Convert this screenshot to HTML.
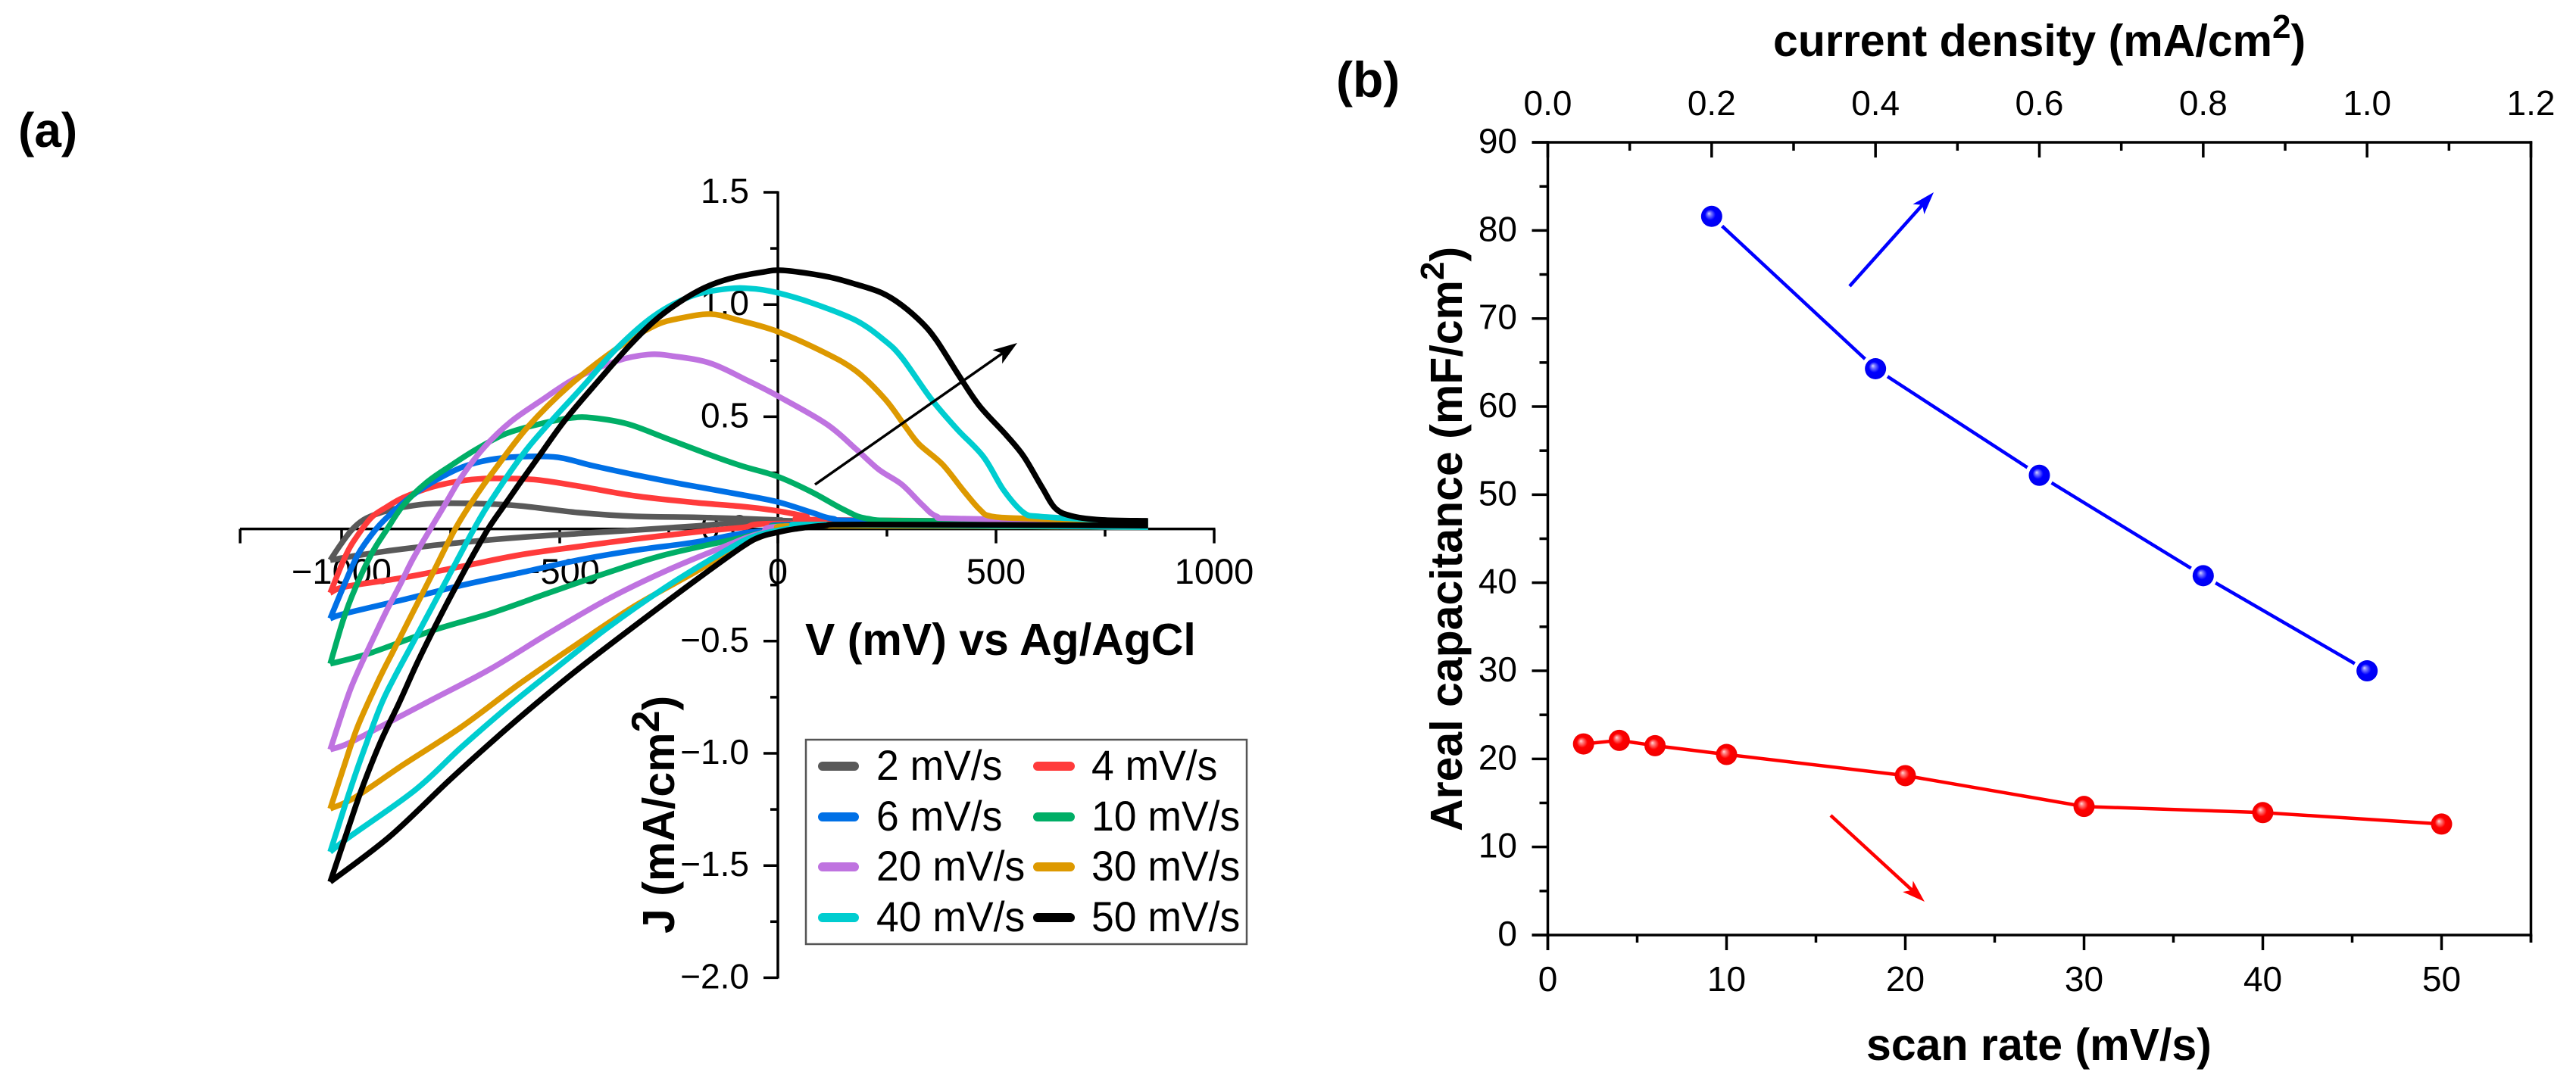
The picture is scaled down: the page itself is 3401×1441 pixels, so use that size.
<!DOCTYPE html>
<html lang="en">
<head>
<meta charset="utf-8">
<title>Cyclic voltammetry and areal capacitance</title>
<style>
html,body{margin:0;padding:0;background:#fff;}
svg{display:block;}
text{font-family:"Liberation Sans",sans-serif;fill:#000;}
.t{font-weight:bold;font-size:59px;}
</style>
</head>
<body>
<svg id="fig" xmlns="http://www.w3.org/2000/svg" width="3401" height="1441" viewBox="0 0 3401 1441">
<defs>
<radialGradient id="gb" cx="0.5" cy="0.5" r="0.5" fx="0.37" fy="0.36"><stop offset="0" stop-color="#d8d8ff"/><stop offset="0.18" stop-color="#7a7aff"/><stop offset="0.5" stop-color="#0000ff"/><stop offset="1" stop-color="#0000f0"/></radialGradient>
<radialGradient id="gr" cx="0.5" cy="0.5" r="0.5" fx="0.37" fy="0.36"><stop offset="0" stop-color="#ffdcdc"/><stop offset="0.18" stop-color="#ff8080"/><stop offset="0.5" stop-color="#ff0000"/><stop offset="1" stop-color="#f00000"/></radialGradient>
</defs>
<rect x="0" y="0" width="3401" height="1441" fill="#fff"/>

<text x="24" y="194" font-size="64" font-weight="bold">(a)</text>
<text x="1764" y="128" font-size="66" font-weight="bold">(b)</text>

<g id="a-axes"></g>
<g id="a-series"></g>
<g id="a-arrow"></g>

<text class="t" x="1063" y="865" font-size="58">V (mV) vs Ag/AgCl</text>
<text class="t" transform="translate(890,1233) rotate(-90)">J (mA/cm<tspan font-size="52" dy="-20">2</tspan><tspan dy="20">)</tspan></text>

<g id="a-legend">
<rect x="1064" y="977" width="582" height="270" fill="#fff" stroke="#555" stroke-width="2.5"/>
</g>

<g id="b-axes"></g>
<g id="b-series"></g>
<g id="b-arrows"></g>

<text class="t" x="2341" y="74">current density (mA/cm<tspan font-size="44" dy="-24">2</tspan><tspan dy="24">)</tspan></text>
<text class="t" x="2464" y="1400">scan rate (mV/s)</text>
<text class="t" transform="translate(1930,1098) rotate(-90)">Areal capacitance (mF/cm<tspan font-size="44" dy="-24">2</tspan><tspan dy="24">)</tspan></text>
</svg>

<script>
// ---- Panel (a) data: V in mV, J in mA/cm2 ----
const seriesNames = ['2 mV/s','4 mV/s','6 mV/s','10 mV/s','20 mV/s','30 mV/s','40 mV/s','50 mV/s'];

const v2 = [-1026,-1003,-977,-950,-910,-858,-792,-691,-592,-458,-327,-193,-82,0,100,842,842,50,-82,-193,-327,-458,-592,-724,-858,-957,-1026];
const j2 = [-0.139,-0.072,-0.005,0.04,0.073,0.097,0.113,0.113,0.103,0.073,0.056,0.052,0.046,0.04,0.035,0.03,0.008,0.03,0.029,0.012,-0.005,-0.021,-0.038,-0.06,-0.089,-0.116,-0.139];

const v4 = [-1026,-990,-963,-931,-897,-858,-792,-724,-658,-559,-458,-327,-193,-82,0,65,105,842,842,50,-82,-193,-327,-458,-592,-724,-858,-990,-1026];
const j4 = [-0.285,-0.116,-0.028,0.052,0.097,0.14,0.187,0.215,0.225,0.22,0.191,0.147,0.118,0.1,0.08,0.056,0.04,0.03,0.008,0.025,0.006,-0.015,-0.045,-0.079,-0.116,-0.167,-0.217,-0.257,-0.285];

const v6 = [-1026,-997,-963,-923,-890,-844,-792,-724,-658,-592,-505,-425,-327,-220,-88,0,78,125,212,842,842,60,0,-82,-193,-327,-458,-592,-724,-858,-990,-1026];
const j6 = [-0.399,-0.263,-0.116,-0.005,0.062,0.14,0.208,0.275,0.309,0.322,0.319,0.282,0.241,0.2,0.154,0.12,0.073,0.046,0.036,0.03,0.008,0.02,0,-0.02,-0.06,-0.095,-0.139,-0.196,-0.251,-0.315,-0.376,-0.399];

const v10 = [-1026,-997,-970,-931,-897,-858,-804,-745,-691,-625,-545,-472,-425,-345,-260,-160,-82,0,78,151,205,311,842,842,60,0,-82,-260,-392,-525,-658,-792,-937,-1026];
const j10 = [-0.601,-0.41,-0.27,-0.11,-0.005,0.107,0.209,0.288,0.355,0.423,0.468,0.495,0.495,0.468,0.407,0.333,0.28,0.233,0.164,0.086,0.046,0.036,0.03,0.008,0.015,0,-0.038,-0.116,-0.196,-0.285,-0.376,-0.453,-0.555,-0.601];

const v20 = [-1026,-990,-967,-923,-897,-865,-838,-798,-764,-724,-672,-612,-545,-465,-370,-298,-240,-154,-68,0,111,179,231,284,331,364,417,842,842,70,-40,-127,-260,-392,-525,-658,-792,-890,-984,-1026];
const j20 = [-0.983,-0.77,-0.655,-0.47,-0.365,-0.245,-0.139,-0.005,0.105,0.235,0.366,0.478,0.569,0.67,0.748,0.777,0.77,0.738,0.66,0.592,0.468,0.356,0.265,0.198,0.107,0.056,0.046,0.03,0.008,0.015,-0.02,-0.082,-0.19,-0.315,-0.465,-0.623,-0.76,-0.86,-0.955,-0.983];

const v30 = [-1026,-997,-963,-914,-877,-838,-791,-741,-698,-645,-572,-479,-370,-284,-226,-154,-88,0,111,179,245,292,324,377,424,463,490,576,842,842,80,0,-80,-193,-327,-458,-592,-725,-858,-970,-1026];
const j30 = [-1.247,-1.073,-0.88,-0.669,-0.527,-0.377,-0.197,-0.005,0.13,0.275,0.457,0.637,0.803,0.904,0.938,0.957,0.929,0.879,0.782,0.704,0.58,0.457,0.377,0.288,0.174,0.086,0.056,0.046,0.03,0.008,0.015,-0.01,-0.07,-0.196,-0.342,-0.51,-0.69,-0.882,-1.05,-1.197,-1.247];

const v40 = [-1026,-990,-957,-911,-881,-838,-778,-738,-698,-658,-571,-446,-370,-284,-197,-111,-50,0,78,179,245,285,351,411,471,517,563,597,677,842,842,100,50,-50,-127,-260,-392,-525,-618,-725,-831,-981,-1026];
const j40 = [-1.439,-1.219,-1.03,-0.79,-0.669,-0.513,-0.295,-0.15,-0.005,0.125,0.366,0.637,0.803,0.949,1.038,1.071,1.069,1.052,1.007,0.929,0.839,0.761,0.58,0.444,0.322,0.174,0.073,0.056,0.046,0.03,0.008,0.02,0.01,-0.03,-0.105,-0.263,-0.443,-0.646,-0.792,-0.972,-1.163,-1.371,-1.439];

const v50 = [-1026,-984,-954,-911,-868,-831,-791,-758,-725,-691,-661,-626,-593,-546,-487,-410,-341,-284,-226,-168,-111,-39,12,111,179,238,284,331,364,417,463,524,564,605,637,677,743,842,842,200,105,40,0,-40,-82,-193,-327,-458,-552,-645,-752,-890,-1026];
const j50 = [-1.573,-1.33,-1.16,-0.95,-0.775,-0.615,-0.455,-0.33,-0.21,-0.09,0.01,0.108,0.2,0.328,0.487,0.663,0.815,0.925,1.01,1.075,1.115,1.143,1.152,1.125,1.09,1.052,0.997,0.917,0.839,0.677,0.546,0.417,0.322,0.187,0.09,0.056,0.04,0.036,0.015,0.02,0.015,0,-0.015,-0.035,-0.08,-0.235,-0.43,-0.625,-0.775,-0.93,-1.118,-1.371,-1.573];

const voltageSeries = [v2,v4,v6,v10,v20,v30,v40,v50];
const currentSeries = [j2,j4,j6,j10,j20,j30,j40,j50];

const aXMajorTicks = [-1000,-500,0,500,1000];
const aXMajorLabels = ['\u22121000','\u2212500','0','500','1000'];
const aXMinorTicks = [-750,-250,250,750];
const aYMajorTicks = [1.5,1.0,0.5,0,-0.5,-1.0,-1.5,-2.0];
const aYMajorLabels = ['1.5','1.0','0.5','0.0','\u22120.5','\u22121.0','\u22121.5','\u22122.0'];
const aYMinorTicks = [1.25,0.75,0.25,-0.25,-0.75,-1.25,-1.75];

// ---- Panel (b) data ----
const scanRates = [2,4,6,10,20,30,40,50];
const capacitanceVsScan = [21.7,22.1,21.5,20.5,18.1,14.6,13.9,12.6];
const currentDensity = [0.2,0.4,0.6,0.8,1.0];
const capacitanceVsCurrent = [81.6,64.3,52.2,40.8,30.0];

const bXMajorTicks = [0,10,20,30,40,50];
const bXMajorLabels = ['0','10','20','30','40','50'];
const bXMinorTicks = [5,15,25,35,45,55];
const bTopMajorTicks = [0,0.2,0.4,0.6,0.8,1.0,1.2];
const bTopMajorLabels = ['0.0','0.2','0.4','0.6','0.8','1.0','1.2'];
const bTopMinorTicks = [0.1,0.3,0.5,0.7,0.9,1.1];
const bYMajorTicks = [0,10,20,30,40,50,60,70,80,90];
const bYMajorLabels = ['0','10','20','30','40','50','60','70','80','90'];
const bYMinorTicks = [5,15,25,35,45,55,65,75,85];

// ---- Styles and scales ----
const seriesColors = ['#595959','#ff3b3b','#0070e6','#00ae66','#bf73e0','#dd9900','#00cdd0','#000000'];

function xA(v){ return 1027 + 0.576 * v; }
function yA(j){ return 698.6 - 296.4 * j; }
function xB(s){ return 2043.5 + 23.6 * s; }
function xBTop(c){ return 2043.5 + 1298 / 1.2 * c; }
function yB(c){ return 1235 - 11.633 * c; }

const NS = 'http://www.w3.org/2000/svg';
function mk(parent, tag){ const el = document.createElementNS(NS, tag); parent.appendChild(el); return el; }
function line(parent, x1, y1, x2, y2, color, w){
  const el = mk(parent, 'line');
  el.setAttribute('x1', x1); el.setAttribute('y1', y1);
  el.setAttribute('x2', x2); el.setAttribute('y2', y2);
  el.setAttribute('stroke', color); el.setAttribute('stroke-width', w);
  return el;
}
function label(parent, x, y, str, size, anchor){
  const el = mk(parent, 'text');
  el.setAttribute('x', x); el.setAttribute('y', y);
  el.setAttribute('font-size', size); el.setAttribute('text-anchor', anchor);
  el.textContent = str;
  return el;
}
function smoothPath(pts){
  // Catmull-Rom through the points. The two sweep-reversal points (same V) and the
  // path ends stay sharp so the curve cannot overshoot past the turnaround.
  let d = 'M' + pts[0][0].toFixed(1) + ' ' + pts[0][1].toFixed(1);
  for (let i = 0; i < pts.length - 1; i++){
    let p0 = pts[Math.max(i - 1, 0)];
    const p1 = pts[i], p2 = pts[i + 1];
    let p3 = pts[Math.min(i + 2, pts.length - 1)];
    if (p1[0] === p2[0]) { d += 'L' + p2[0].toFixed(1) + ' ' + p2[1].toFixed(1); continue; }
    if (p0[0] === p1[0]) p0 = p1;
    if (p3[0] === p2[0]) p3 = p2;
    const c1x = p1[0] + (p2[0] - p0[0]) / 6, c1y = p1[1] + (p2[1] - p0[1]) / 6;
    const c2x = p2[0] - (p3[0] - p1[0]) / 6, c2y = p2[1] - (p3[1] - p1[1]) / 6;
    d += 'C' + c1x.toFixed(1) + ' ' + c1y.toFixed(1) + ' ' + c2x.toFixed(1) + ' ' + c2y.toFixed(1) + ' ' + p2[0].toFixed(1) + ' ' + p2[1].toFixed(1);
  }
  return d;
}
function arrow(parent, x1, y1, x2, y2, color, w, headLen, headW){
  const dx = x2 - x1, dy = y2 - y1, L = Math.hypot(dx, dy), ux = dx / L, uy = dy / L, nx = -uy, ny = ux;
  const shaft = line(parent, x1, y1, x2 - ux * headLen * 0.7, y2 - uy * headLen * 0.7, color, w);
  
  
  const bx = x2 - ux * headLen, by = y2 - uy * headLen, mx = x2 - ux * headLen * 0.75, my = y2 - uy * headLen * 0.75;
  const head = mk(parent, 'polygon');
  head.setAttribute('points', [x2, y2, bx + nx * headW / 2, by + ny * headW / 2, mx, my, bx - nx * headW / 2, by - ny * headW / 2].join(' '));
  head.setAttribute('fill', color);
  
  
}
function tag(el, name){
  
  
  return el;
}

// ---- Panel (a) axes ----
const aAxes = document.getElementById('a-axes');
const AW = 3.5;
tag(line(aAxes, 317, yA(0), xA(1000) + 1.5, yA(0), '#000', AW), 'panel-a-x-axis');
tag(line(aAxes, xA(0), 252.5, xA(0), 1292.5, '#000', AW), 'panel-a-y-axis');
tag(line(aAxes, 317, yA(0), 317, yA(0) + 19, '#000', AW), 'panel-a-x-tick-end');
aXMajorTicks.forEach(function(t, i){
  tag(line(aAxes, xA(t), yA(0), xA(t), yA(0) + 19, '#000', AW), 'panel-a-x-tick');
  tag(label(aAxes, xA(t), 771, aXMajorLabels[i], 47, 'middle'), 'panel-a-x-tick-label');
});
aXMinorTicks.forEach(function(t){
  tag(line(aAxes, xA(t), yA(0), xA(t), yA(0) + 10, '#000', AW), 'panel-a-x-minor-tick');
});
aYMajorTicks.forEach(function(t, i){
  tag(line(aAxes, xA(0) - 19, yA(t), xA(0), yA(t), '#000', AW), 'panel-a-y-tick');
  tag(label(aAxes, 989, yA(t) + 14, aYMajorLabels[i], 46, 'end'), 'panel-a-y-tick-label');
});
aYMinorTicks.forEach(function(t){
  tag(line(aAxes, xA(0) - 10, yA(t), xA(0), yA(t), '#000', AW), 'panel-a-y-minor-tick');
});

// ---- Panel (a) series ----
const aSeries = document.getElementById('a-series');
voltageSeries.forEach(function(vs, i){
  const js = currentSeries[i];
  const el = mk(aSeries, 'path');
  el.setAttribute('d', smoothPath(vs.map(function(v, k){ return [xA(v), yA(js[k])]; })));
  el.setAttribute('fill', 'none');
  el.setAttribute('stroke', seriesColors[i]);
  el.setAttribute('stroke-width', '7.5');
  el.setAttribute('stroke-linejoin', 'miter');
  el.setAttribute('stroke-miterlimit', '3');
  
  
});

arrow(document.getElementById('a-arrow'), 1076, 640, 1343, 453, '#000', 3.5, 32, 22);

// ---- Panel (a) legend ----
const legend = document.getElementById('a-legend');
const legendColumns = [[1081, 1133, 1157], [1365, 1418, 1441]];
const legendRows = [1012, 1079, 1145, 1212];
seriesNames.forEach(function(name, i){
  const col = legendColumns[i % 2], rowY = legendRows[Math.floor(i / 2)];
  const swatch = line(legend, col[0] + 5, rowY, col[1] - 5, rowY, seriesColors[i], 12);
  swatch.setAttribute('stroke-linecap', 'round');
  
  
  const txt = label(legend, col[2], rowY + 18, name, 56, 'start');
  txt.setAttribute('lengthAdjust', 'spacingAndGlyphs');
  txt.setAttribute('textLength', (txt.getComputedTextLength() * 0.955).toFixed(1));
  
  
});

// ---- Panel (b) axes ----
const bAxes = document.getElementById('b-axes');
const L = xB(0), R = xB(55), T = yB(90), B = yB(0);
tag(line(bAxes, L - 21, T, R + 1.75, T, '#000', AW), 'panel-b-top-axis');
tag(line(bAxes, L - 21, B, R + 1.75, B, '#000', AW), 'panel-b-bottom-axis');
tag(line(bAxes, L, T - 1.75, L, B + 20, '#000', AW), 'panel-b-left-axis');
tag(line(bAxes, R, T - 1.75, R, B + 10, '#000', AW), 'panel-b-right-axis');
bXMajorTicks.forEach(function(t, i){
  tag(line(bAxes, xB(t), B, xB(t), B + 20, '#000', AW), 'panel-b-x-tick');
  tag(label(bAxes, xB(t), 1309, bXMajorLabels[i], 46, 'middle'), 'panel-b-x-tick-label');
});
bXMinorTicks.forEach(function(t){
  tag(line(bAxes, xB(t), B, xB(t), B + 10, '#000', AW), 'panel-b-x-minor-tick');
});
bTopMajorTicks.forEach(function(t, i){
  tag(line(bAxes, xBTop(t), T, xBTop(t), T + 20, '#000', AW), 'panel-b-top-tick');
  tag(label(bAxes, xBTop(t), 152, bTopMajorLabels[i], 46, 'middle'), 'panel-b-top-tick-label');
});
bTopMinorTicks.forEach(function(t){
  tag(line(bAxes, xBTop(t), T, xBTop(t), T + 11, '#000', AW), 'panel-b-top-minor-tick');
});
bYMajorTicks.forEach(function(t, i){
  tag(line(bAxes, L - 21, yB(t), L, yB(t), '#000', AW), 'panel-b-y-tick');
  tag(label(bAxes, 2003, yB(t) + 14, bYMajorLabels[i], 46, 'end'), 'panel-b-y-tick-label');
});
bYMinorTicks.forEach(function(t){
  tag(line(bAxes, L - 11, yB(t), L, yB(t), '#000', AW), 'panel-b-y-minor-tick');
});

// ---- Panel (b) series ----
const bSeries = document.getElementById('b-series');

const redLine = mk(bSeries, 'polyline');
redLine.setAttribute('points', scanRates.map(function(s, k){ return xB(s).toFixed(1) + ',' + yB(capacitanceVsScan[k]).toFixed(1); }).join(' '));
redLine.setAttribute('fill', 'none');
redLine.setAttribute('stroke', '#ff0000');
redLine.setAttribute('stroke-width', '4.5');



const blueLine = mk(bSeries, 'polyline');
blueLine.setAttribute('points', currentDensity.map(function(c, k){ return xBTop(c).toFixed(1) + ',' + yB(capacitanceVsCurrent[k]).toFixed(1); }).join(' '));
blueLine.setAttribute('fill', 'none');
blueLine.setAttribute('stroke', '#0000ff');
blueLine.setAttribute('stroke-width', '4.5');



scanRates.forEach(function(s, k){
  const dot = mk(bSeries, 'circle');
  dot.setAttribute('cx', xB(s));
  dot.setAttribute('cy', yB(capacitanceVsScan[k]));
  dot.setAttribute('r', '14');
  dot.setAttribute('fill', 'url(#gr)');
  
  
});
currentDensity.forEach(function(c, k){
  const halo = mk(bSeries, 'circle');
  halo.setAttribute('cx', xBTop(c));
  halo.setAttribute('cy', yB(capacitanceVsCurrent[k]));
  halo.setAttribute('r', '19');
  halo.setAttribute('fill', '#fff');
  
  
  const dot = mk(bSeries, 'circle');
  dot.setAttribute('cx', xBTop(c));
  dot.setAttribute('cy', yB(capacitanceVsCurrent[k]));
  dot.setAttribute('r', '14');
  dot.setAttribute('fill', 'url(#gb)');
  
  
});

const bArrows = document.getElementById('b-arrows');
arrow(bArrows, 2442, 378, 2553, 254, '#0000ff', 4.5, 30, 20);
arrow(bArrows, 2417, 1077, 2541, 1191, '#ff0000', 4.5, 30, 20);
</script>
</body>
</html>
